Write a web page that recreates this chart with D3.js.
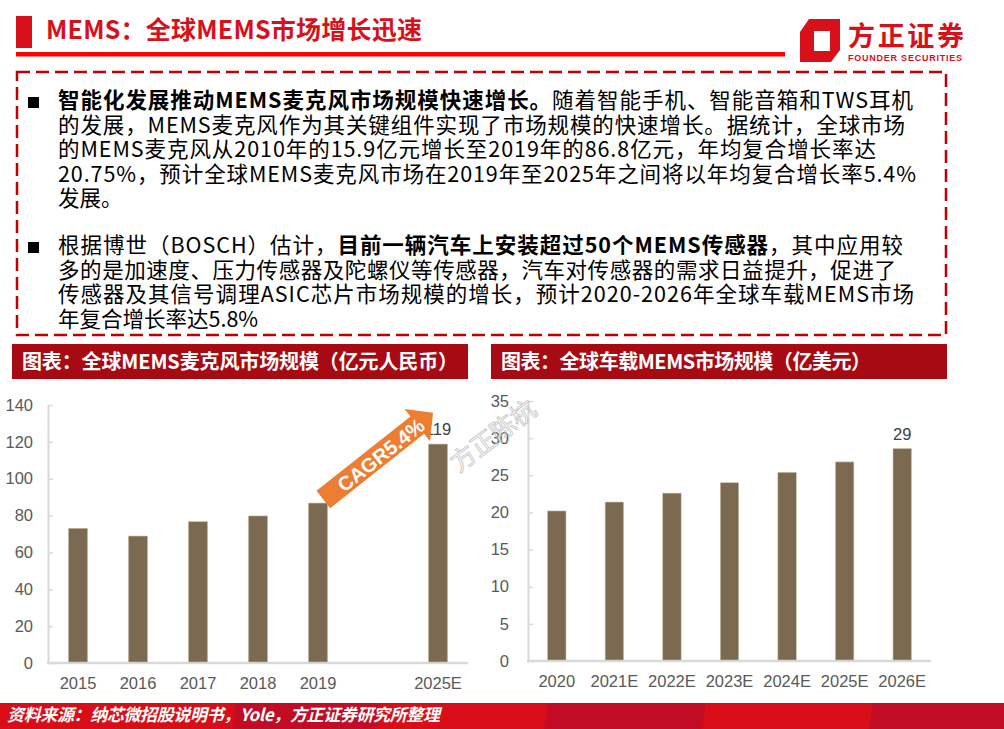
<!DOCTYPE html>
<html>
<head>
<meta charset="utf-8">
<script src="https://cdn.jsdelivr.net/npm/d3@7"></script>
<style>
body { margin: 0; background: #fff; }
svg { display: block; }
</style>
</head>
<body>
<div id="page"></div>
<script>
// chart data
var micYears = ['2015', '2016', '2017', '2018', '2019', '', '2025E']
var micValues = [73.1, 68.9, 76.7, 79.8, 86.8, null, 118.8]
var micTicks = [0, 20, 40, 60, 80, 100, 120, 140]

var carYears = ['2020', '2021E', '2022E', '2023E', '2024E', '2025E', '2026E']
var carValues = [20.2, 21.4, 22.6, 24.0, 25.4, 26.8, 28.6]
var carTicks = [0, 5, 10, 15, 20, 25, 30, 35]

var cagrLabel = 'CAGR5.4%'

// texts
var pageTitle = 'MEMS：全球MEMS市场增长迅速'
var micTitle = '图表：全球MEMS麦克风市场规模（亿元人民币）'
var carTitle = '图表：全球车载MEMS市场规模（亿美元）'
var sourceNote = '资料来源：纳芯微招股说明书，Yole，方正证券研究所整理'

// each line: list of [text, bold]
var para1 = [
    [['智能化发展推动MEMS麦克风市场规模快速增长。', true], ['随着智能手机、智能音箱和TWS耳机', false]],
    [['的发展，MEMS麦克风作为其关键组件实现了市场规模的快速增长。据统计，全球市场', false]],
    [['的MEMS麦克风从2010年的15.9亿元增长至2019年的86.8亿元，年均复合增长率达', false]],
    [['20.75%，预计全球MEMS麦克风市场在2019年至2025年之间将以年均复合增长率5.4%', false]],
    [['发展。', false]]
]
var para2 = [
    [['根据博世（BOSCH）估计，', false], ['目前一辆汽车上安装超过50个MEMS传感器', true], ['，其中应用较', false]],
    [['多的是加速度、压力传感器及陀螺仪等传感器，汽车对传感器的需求日益提升，促进了', false]],
    [['传感器及其信号调理ASIC芯片市场规模的增长，预计2020-2026年全球车载MEMS市场', false]],
    [['年复合增长率达5.8%', false]]
]

var width = 1004
var height = 729
var cjk = '"Noto Sans CJK SC", "Microsoft YaHei", sans-serif'
var latin = '"Liberation Sans", Arial, sans-serif'

var svg = d3.select('#page')
    .append('svg')
    .attr('width', width)
    .attr('height', height)

// stretch a text's letter spacing so it spans w pixels
function fit(sel, w) {
    var n = sel.text().length
    var natural = sel.node().getComputedTextLength()
    if (n > 1) sel.attr('letter-spacing', (w - natural) / (n - 1))
}

// ---- header
svg.append('rect').attr('x', 16).attr('y', 16).attr('width', 16).attr('height', 32).attr('fill', '#d7101a')
var t = svg.append('text')
    .attr('x', 46).attr('y', 39)
    .style('font-family', cjk).style('font-weight', 'bold').style('font-size', '25px')
    .attr('fill', '#d7101a')
    .text(pageTitle)
fit(t, 376)
svg.append('rect').attr('x', 16).attr('y', 52).attr('width', 769).attr('height', 4.5).attr('fill', '#ff0000')

// logo
var logo = svg.append('g')
logo.append('path')
    .attr('d', 'M809,19 L840,19 L840,50 L831,62 L800,62 L800,32 Z')
    .attr('fill', '#d7101a')
logo.append('rect').attr('x', 814).attr('y', 31).attr('width', 16).attr('height', 20).attr('fill', '#fff')
t = logo.append('text')
    .attr('x', 848).attr('y', 46)
    .style('font-family', cjk).style('font-weight', 'bold').style('font-size', '27px')
    .attr('fill', '#d7101a')
    .text('方正证券')
fit(t, 116)
t = logo.append('text')
    .attr('x', 848).attr('y', 61)
    .style('font-family', latin).style('font-weight', 'bold').style('font-size', '9px')
    .attr('fill', '#d7101a')
    .text('FOUNDER SECURITIES')
fit(t, 114)

// ---- text box
svg.append('rect')
    .attr('x', 17).attr('y', 72).attr('width', 929).attr('height', 263)
    .attr('fill', 'none')
    .attr('stroke', '#c00000')
    .attr('stroke-width', 2.5)
    .attr('stroke-dasharray', '13,6')

var lineEnds1 = [915, 907, 878, 918, null]
var lineEnds2 = [905, 898, 916, null]

function paragraph(lines, ends, y0) {
    svg.append('rect').attr('x', 28).attr('y', y0 - 11).attr('width', 11).attr('height', 11).attr('fill', '#000')
    lines.forEach(function(line, i) {
        var txt = svg.append('text')
            .attr('x', 58).attr('y', y0 + i * 24.6)
            .style('font-family', cjk).style('font-size', '21.5px')
            .attr('fill', '#000')
        txt.selectAll('tspan')
            .data(line)
            .enter()
            .append('tspan')
            .style('font-weight', function(d) { return d[1] ? 'bold' : 'normal' })
            .text(function(d) { return d[0] })
        if (ends[i]) fit(txt, ends[i] - 58 - 2)
    })
}
paragraph(para1, lineEnds1, 108)
paragraph(para2, lineEnds2, 253)

// ---- chart titles
function titleBar(x, w, label, tw) {
    svg.append('rect').attr('x', x).attr('y', 344).attr('width', w).attr('height', 35).attr('fill', '#a80a14')
    var tt = svg.append('text')
        .attr('x', x + 10).attr('y', 369)
        .style('font-family', cjk).style('font-weight', 'bold').style('font-size', '20px')
        .attr('fill', '#fff')
        .text(label)
    fit(tt, tw)
}
titleBar(12, 456, micTitle, 436)
titleBar(491, 456, carTitle, 370)

// ---- bar charts
function barChart(cats, vals, ticks, x0, x1, yBase, yTop, pad) {
    var g = svg.append('g')

    var x = d3.scaleBand()
        .domain(cats.map(function(d, i) { return i }))
        .range([x0, x1])
        .paddingInner(0.68)
        .paddingOuter(0.34)

    var y = d3.scaleLinear()
        .domain([0, d3.max(ticks)])
        .range([yBase, yTop])

    var yAxis = g.append('g')
        .attr('transform', 'translate(' + x0 + ',0)')
        .call(d3.axisLeft(y).tickValues(ticks).tickSizeInner(-5).tickSizeOuter(0).tickPadding(pad))
    yAxis.select('.domain').attr('stroke', '#d9d9d9').attr('stroke-width', 2)
    yAxis.selectAll('.tick line').attr('stroke', '#d9d9d9').attr('stroke-width', 1.5)
    yAxis.selectAll('.tick text')
        .attr('fill', '#595959')
        .style('font-family', latin)
        .style('font-size', '16.5px')

    g.append('line')
        .attr('x1', x0 - 1).attr('x2', x1)
        .attr('y1', yBase).attr('y2', yBase)
        .attr('stroke', '#d9d9d9').attr('stroke-width', 2.5)

    g.selectAll('.cat')
        .data(cats)
        .enter()
        .append('text')
        .attr('x', function(d, i) { return x(i) + x.bandwidth() / 2 })
        .attr('y', yBase + 26)
        .attr('text-anchor', 'middle')
        .attr('fill', '#595959')
        .style('font-family', latin)
        .style('font-size', '16.5px')
        .text(function(d) { return d })

    var data = vals.map(function(v, i) { return { i: i, v: v } }).filter(function(d) { return d.v != null })

    g.selectAll('.bar')
        .data(data)
        .enter()
        .append('rect')
        .attr('x', function(d) { return x(d.i) })
        .attr('width', x.bandwidth())
        .attr('y', function(d) { return y(d.v) })
        .attr('height', function(d) { return yBase - 1 - y(d.v) })
        .attr('fill', '#7b6a4f')
        .attr('stroke', '#c9c1b3')
        .attr('stroke-width', 0.6)

    // value label on the last bar
    var last = data[data.length - 1]
    g.append('text')
        .attr('x', x(last.i) + x.bandwidth() / 2)
        .attr('y', y(last.v) - 9)
        .attr('text-anchor', 'middle')
        .attr('fill', '#404040')
        .style('font-family', latin)
        .style('font-size', '16.5px')
        .text(Math.round(last.v))

    return { x: x, y: y }
}

var mic = barChart(micYears, micValues, micTicks, 48, 468, 663, 405, 15)
var car = barChart(carYears, carValues, carTicks, 528, 931, 661, 401, 19)

// ---- CAGR arrow from the 2019 bar towards the 2025E bar
var ax0 = 323.3, ay0 = 499.5, ax1 = 433, ay1 = 412.7
var len = Math.hypot(ax1 - ax0, ay1 - ay0)
var ang = Math.atan2(ay1 - ay0, ax1 - ax0) * 180 / Math.PI
var arrow = svg.append('g')
    .attr('transform', 'translate(' + ax0 + ',' + ay0 + ') rotate(' + ang + ')')
var hl = 20
arrow.append('path')
    .attr('d', d3.line()([[0, -11], [len - hl, -11], [len - hl, -20.5], [len, 0], [len - hl, 20.5], [len - hl, 11], [0, 11]]) + 'Z')
    .attr('fill', '#ed7d31')
arrow.append('text')
    .attr('x', 72.7).attr('y', 1)
    .attr('text-anchor', 'middle')
    .attr('dominant-baseline', 'central')
    .attr('fill', '#fff')
    .style('font-family', latin).style('font-weight', 'bold').style('font-size', '20px')
    .text(cagrLabel)

// watermark
svg.append('text')
    .attr('transform', 'translate(492,434) rotate(-37)')
    .attr('text-anchor', 'middle')
    .attr('dominant-baseline', 'central')
    .attr('fill', 'none')
    .attr('stroke', '#c4c4c4')
    .attr('stroke-width', 0.8)
    .style('font-family', cjk).style('font-size', '25px')
    .text('方正陈杭')

// ---- footer
svg.append('rect').attr('x', 0).attr('y', 703).attr('width', width).attr('height', 26).attr('fill', '#d90d17')
var stripes = [[233, 377], [545, 703], [870, 1010]]
svg.selectAll('.stripe')
    .data(stripes)
    .enter()
    .append('path')
    .attr('d', function(d) {
        return 'M' + (d[0] + 3) + ',703 L' + (d[1] + 3) + ',703 L' + (d[1] - 1) + ',729 L' + (d[0] - 1) + ',729 Z'
    })
    .attr('fill', '#c20c25')
t = svg.append('text')
    .attr('x', 7).attr('y', 721)
    .style('font-family', cjk).style('font-style', 'italic').style('font-weight', 'bold').style('font-size', '17px')
    .attr('fill', '#fff')
    .text(sourceNote)
fit(t, 433)
</script>
</body>
</html>
